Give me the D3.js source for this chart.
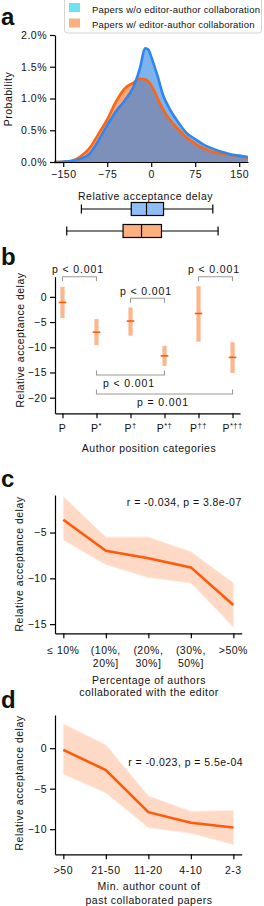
<!DOCTYPE html>
<html><head><meta charset="utf-8">
<script src="https://cdn.jsdelivr.net/npm/d3@7"></script>
<style>
body{margin:0;background:#fff}
svg text{font-family:"Liberation Sans",Arial,Helvetica,sans-serif;fill:#111}
</style>
</head><body>
<svg id="fig" width="264" height="906"></svg>
<script>
// ---------------- DATA ----------------
// Panel a: density of relative acceptance delay (%)
const delayGrid = [-165,-150,-135,-120,-105,-90,-75,-60,-45,-30,-20,-10,-5,0,5,10,20,30,45,60,75,90,105,120,135,150,165];
const densityNoCollab = [0.0,0.005,0.015,0.05,0.13,0.34,0.58,0.80,0.97,1.19,1.45,1.79,1.77,1.66,1.52,1.38,1.06,0.86,0.64,0.46,0.36,0.27,0.21,0.16,0.12,0.10,0.08];
const densityCollab   = [0.0,0.005,0.02,0.09,0.22,0.44,0.67,0.95,1.16,1.25,1.31,1.30,1.27,1.21,1.12,1.02,0.83,0.69,0.53,0.39,0.29,0.21,0.16,0.13,0.11,0.09,0.07];
const seriesNames = ["Papers w/o editor-author collaboration","Papers w/ editor-author collaboration"];
const probTicks = [0,0.5,1.0,1.5,2.0];
const delayTicks = [-150,-75,0,75,150];
// box stats: [whiskerLow, q1, median, q3, whiskerHigh]
const boxNoCollab = [-119,-34,-8,21,105];
const boxCollab   = [-144,-48,-16.5,17.5,114];

// Panel b
const posBase = ["P","P","P","P","P","P"];
const posSup  = ["","*","†","*†","††","*††"];
const posMean = [-1.1,-7.0,-4.8,-11.7,-3.3,-12.0];
const posLow  = [-4.2,-9.6,-7.7,-13.7,-8.9,-15.1];
const posHigh = [2.0,-4.4,-2.1,-9.7,2.1,-9.0];
const posTicks = [0,-5,-10,-15,-20];
const bracketFrom = [0,2,4,1,1];
const bracketTo   = [1,3,5,3,5];
const bracketText = ["p < 0.001","p < 0.001","p < 0.001","p < 0.001","p = 0.001"];

// Panel c
const pctLabels = [["≤ 10%"],["(10%,","20%]"],["(20%,","30%]"],["(30%,","50%]"],[">50%"]];
const pctMean = [-3.6,-7.0,-7.8,-8.8,-12.9];
const pctLow  = [-5.8,-8.5,-9.9,-10.5,-15.3];
const pctHigh = [-1.1,-5.5,-5.5,-7.1,-10.5];
const pctTicks = [-5,-10,-15];
const pctStat = "r = -0.034, p = 3.8e-07";

// Panel d
const cntLabels = [">50","21-50","11-20","4-10","2-3"];
const cntMean = [-0.2,-2.7,-7.9,-9.2,-9.8];
const cntLow  = [-3.2,-5.5,-9.8,-10.5,-11.9];
const cntHigh = [3.0,0.4,-5.9,-7.8,-7.7];
const cntTicks = [0,-5,-10];
const cntStat = "r = -0.023, p = 5.5e-04";

// ---------------- STYLE ----------------
const FS = 10.5, LS = 0.5;
const svg = d3.select("#fig");
const C = {blueLine:"#2f86ee", orangeLine:"#ff640f", blueFill:"#2682e6", orangeFill:"#ff6414",
  boxBlue:"#8dbff5", boxOrange:"#fdb07e", err:"#fdb58e", mean:"#ff5a00", band:"#fdd9c6", line:"#ff5a0a"};

function txt(g,x,y,s,anchor,size,ls){
  return g.append("text").attr("x",x).attr("y",y).attr("text-anchor",anchor||"start")
    .attr("font-size",size||FS).attr("letter-spacing",(ls===undefined?LS:ls)).text(s);
}
function styleAxis(g){
  g.selectAll("path.domain").attr("stroke","#000").attr("stroke-width",1.2);
  g.selectAll(".tick line").attr("stroke","#000").attr("stroke-width",1.2);
  g.selectAll(".tick text").attr("font-size",FS).attr("letter-spacing",LS)
    .attr("font-family",'"Liberation Sans",Arial,sans-serif').attr("fill","#111");
}
function panelLabel(x,y,s){
  svg.append("text").attr("x",x).attr("y",y).attr("font-size",24).attr("font-weight","bold").text(s);
}
function yTitle(x,y,s){
  svg.append("text").attr("transform",`translate(${x},${y}) rotate(-90)`).attr("text-anchor","middle")
    .attr("dy","0.35em").attr("font-size",FS).attr("letter-spacing",LS).text(s);
}

// ---------------- PANEL A ----------------
panelLabel(1,25,"a");
const xA = d3.scaleLinear().domain([-164,165]).range([55,248]);
const yA = d3.scaleLinear().domain([0,2.0]).range([162,35]);
const ptsB = delayGrid.map((d,i)=>[d,densityNoCollab[i]]);
const ptsO = delayGrid.map((d,i)=>[d,densityCollab[i]]);
const area = d3.area().x(d=>xA(d[0])).y0(yA(0)).y1(d=>yA(d[1])).curve(d3.curveMonotoneX);
const line = d3.line().x(d=>xA(d[0])).y(d=>yA(d[1])).curve(d3.curveMonotoneX);
svg.append("path").attr("d",area(ptsO)).attr("fill",C.orangeFill).attr("fill-opacity",0.58);
svg.append("path").attr("d",area(ptsB)).attr("fill",C.blueFill).attr("fill-opacity",0.6);
svg.append("path").attr("d",line(ptsO)).attr("fill","none").attr("stroke",C.orangeLine).attr("stroke-width",2.6);
svg.append("path").attr("d",line(ptsB)).attr("fill","none").attr("stroke",C.blueLine).attr("stroke-width",2.6);

const gyA = svg.append("g").attr("transform","translate(55,0)")
  .call(d3.axisLeft(yA).tickValues(probTicks).tickFormat(d=>d.toFixed(1)+"%").tickSize(5).tickSizeOuter(0).tickPadding(3));
styleAxis(gyA);
const gxA = svg.append("g").attr("transform","translate(0,162)")
  .call(d3.axisBottom(xA).tickValues(delayTicks).tickSize(5).tickSizeOuter(0).tickPadding(4));
styleAxis(gxA);
yTitle(8,99,"Probability");
txt(svg,145.5,200,"Relative acceptance delay","middle");

// legend
svg.append("rect").attr("x",64.5).attr("y",-3).attr("width",197).attr("height",36).attr("rx",3)
  .attr("fill","#fff").attr("stroke","#d4d4d4").attr("stroke-width",1);
const legCols = ["#6fe2f2","#fdae7e"];
seriesNames.forEach((s,i)=>{
  svg.append("rect").attr("x",69).attr("y",3+i*15.5).attr("width",11).attr("height",9).attr("fill",legCols[i]);
  txt(svg,92,12.5+i*15,s,"start",9.5,0.2);
});

// boxplots
[[boxNoCollab,C.boxBlue,209],[boxCollab,C.boxOrange,231]].forEach(([b,col,cy])=>{
  const g = svg.append("g");
  g.append("line").attr("x1",xA(b[0])).attr("x2",xA(b[1])).attr("y1",cy).attr("y2",cy).attr("stroke","#000").attr("stroke-width",1.2);
  g.append("line").attr("x1",xA(b[3])).attr("x2",xA(b[4])).attr("y1",cy).attr("y2",cy).attr("stroke","#000").attr("stroke-width",1.2);
  [b[0],b[4]].forEach(v=>g.append("line").attr("x1",xA(v)).attr("x2",xA(v)).attr("y1",cy-4.5).attr("y2",cy+4.5).attr("stroke","#000").attr("stroke-width",1.2));
  g.append("rect").attr("x",xA(b[1])).attr("y",cy-6.5).attr("width",xA(b[3])-xA(b[1])).attr("height",13)
    .attr("fill",col).attr("stroke","#000").attr("stroke-width",1.2);
  g.append("line").attr("x1",xA(b[2])).attr("x2",xA(b[2])).attr("y1",cy-6.5).attr("y2",cy+6.5).attr("stroke","#000").attr("stroke-width",1.2);
});

// ---------------- PANEL B ----------------
panelLabel(1,265,"b");
const idx = d3.range(posBase.length);
const xB = d3.scalePoint().domain(idx).range([55,240]).padding(0.22);
const yB = d3.scaleLinear().domain([-23.1,4]).range([413.3,276.7]);
idx.forEach(i=>{
  svg.append("line").attr("x1",xB(i)).attr("x2",xB(i)).attr("y1",yB(posLow[i])).attr("y2",yB(posHigh[i]))
    .attr("stroke",C.err).attr("stroke-width",4.2);
  svg.append("line").attr("x1",xB(i)-3.8).attr("x2",xB(i)+3.8).attr("y1",yB(posMean[i])).attr("y2",yB(posMean[i]))
    .attr("stroke",C.mean).attr("stroke-width",1.6);
});
const gyB = svg.append("g").attr("transform","translate(55,0)")
  .call(d3.axisLeft(yB).tickValues(posTicks).tickSize(5).tickSizeOuter(0).tickPadding(3));
styleAxis(gyB);
const gxB = svg.append("g").attr("transform","translate(0,413.3)")
  .call(d3.axisBottom(xB).tickSize(5).tickSizeOuter(0).tickFormat(""));
styleAxis(gxB);
idx.forEach(i=>{
  const t = svg.append("text").attr("x",xB(i)).attr("y",432).attr("text-anchor","middle")
    .attr("font-size",FS).attr("letter-spacing",LS);
  t.append("tspan").text(posBase[i]);
  if(posSup[i]) t.append("tspan").attr("font-size",7.5).attr("dy",-4).text(posSup[i]);
});
txt(svg,149,452,"Author position categories","middle");
yTitle(20,340,"Relative acceptance delay");
// brackets
const brLevelY = [276.7,298.3,276.7,375,394];
const brDir = [1,1,1,-1,-1];
const brTextY = [273,294.5,273,386.5,406];
bracketFrom.forEach((f,k)=>{
  const x1 = xB(f), x2 = xB(bracketTo[k]), y = brLevelY[k], d = brDir[k]*4.5;
  svg.append("path").attr("d",`M${x1},${y+d}V${y}H${x2}V${y+d}`).attr("fill","none")
    .attr("stroke","#9a9a9a").attr("stroke-width",1.1);
  txt(svg,(x1+x2)/2-1.5,brTextY[k],bracketText[k],"middle",FS,0.9);
});

// ---------------- PANEL C ----------------
panelLabel(1,487,"c");
const xC = d3.scalePoint().domain(d3.range(5)).range([55,241.7]).padding(0.196);
const yC = d3.scaleLinear().domain([-16,-0.9]).range([633.3,495]);
const bandC = d3.area().x((d,i)=>xC(i)).y0((d,i)=>yC(pctLow[i])).y1((d,i)=>yC(pctHigh[i]));
svg.append("path").attr("d",bandC(pctMean)).attr("fill",C.band).attr("stroke","#feeadf").attr("stroke-width",1);
svg.append("path").attr("d",d3.line().x((d,i)=>xC(i)).y(d=>yC(d))(pctMean)).attr("fill","none")
  .attr("stroke",C.line).attr("stroke-width",2.6);
const gyC = svg.append("g").attr("transform","translate(55,0)")
  .call(d3.axisLeft(yC).tickValues(pctTicks).tickSize(5).tickSizeOuter(0).tickPadding(3));
styleAxis(gyC);
const gxC = svg.append("g").attr("transform","translate(0,633.3)")
  .call(d3.axisBottom(xC).tickSize(5).tickSizeOuter(0).tickFormat(""));
styleAxis(gxC);
pctLabels.forEach((lab,i)=>{
  lab.forEach((s,j)=>txt(svg,xC(i),654+j*12.7,s,"middle"));
});
txt(svg,241.7,505.5,pctStat,"end",FS,0.45);
txt(svg,149,683.5,"Percentage of authors","middle");
txt(svg,149,696,"collaborated with the editor","middle");
yTitle(19,564,"Relative acceptance delay");

// ---------------- PANEL D ----------------
panelLabel(1,708,"d");
const xD = d3.scalePoint().domain(d3.range(5)).range([55,241.7]).padding(0.196);
const yD = d3.scaleLinear().domain([-13.1,4.1]).range([854.3,715]);
const bandD = d3.area().x((d,i)=>xD(i)).y0((d,i)=>yD(cntLow[i])).y1((d,i)=>yD(cntHigh[i]));
svg.append("path").attr("d",bandD(cntMean)).attr("fill",C.band).attr("stroke","#feeadf").attr("stroke-width",1);
svg.append("path").attr("d",d3.line().x((d,i)=>xD(i)).y(d=>yD(d))(cntMean)).attr("fill","none")
  .attr("stroke",C.line).attr("stroke-width",2.6);
const gyD = svg.append("g").attr("transform","translate(55,0)")
  .call(d3.axisLeft(yD).tickValues(cntTicks).tickSize(5).tickSizeOuter(0).tickPadding(3));
styleAxis(gyD);
const gxD = svg.append("g").attr("transform","translate(0,854.3)")
  .call(d3.axisBottom(xD).tickSize(5).tickSizeOuter(0).tickFormat(""));
styleAxis(gxD);
cntLabels.forEach((s,i)=>txt(svg,xD(i),874,s,"middle"));
txt(svg,243,765.5,cntStat,"end",FS,0.45);
txt(svg,149,890,"Min. author count of","middle");
txt(svg,149,903.5,"past collaborated papers","middle");
yTitle(19,783,"Relative acceptance delay");
</script>
</body></html>
